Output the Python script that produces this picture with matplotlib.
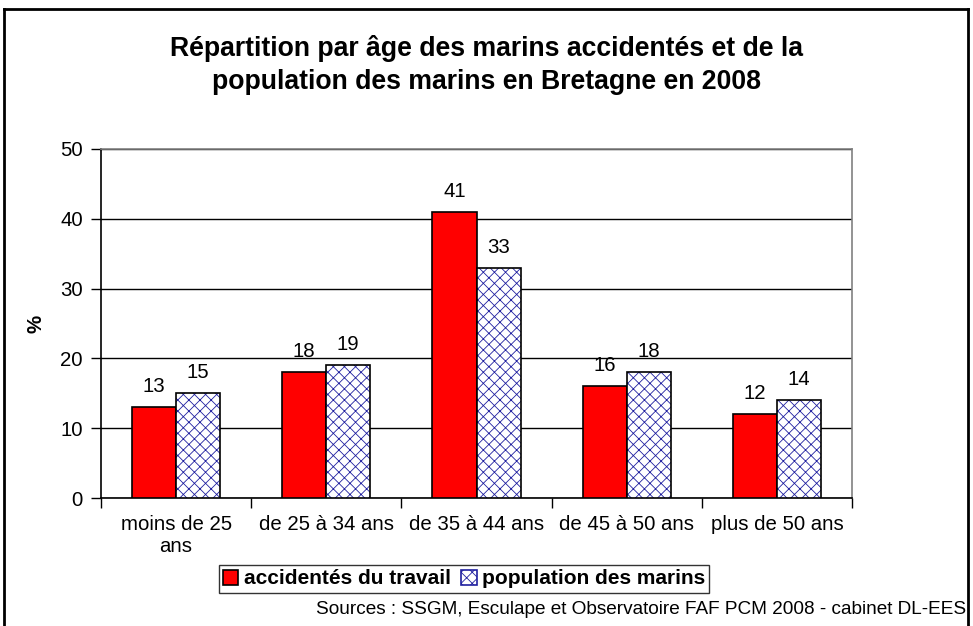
import matplotlib
matplotlib.use("Agg")
import matplotlib.pyplot as plt
import numpy as np
from matplotlib.lines import Line2D
from matplotlib.patches import Patch

plt.rcParams['font.family'] = ['Liberation Sans', 'DejaVu Sans']

categories = ["moins de 25\nans", "de 25 à 34 ans", "de 35 à 44 ans", "de 45 à 50 ans", "plus de 50 ans"]
accidentes = [13, 18, 41, 16, 12]
population = [15, 19, 33, 18, 14]
series_names = ["accidentés du travail", "population des marins"]
title = "Répartition par âge des marins accidentés et de la\npopulation des marins en Bretagne en 2008"
source = "Sources : SSGM, Esculape et Observatoire FAF PCM 2008 - cabinet DL-EES"

FS = 14.7

fig = plt.figure(figsize=(9.73, 6.26), dpi=100)
ax = fig.add_axes([101/973, 1-498/626, (852-101)/973, (498-149)/626])

x = np.arange(len(categories))
w = 0.293
plt.rcParams['hatch.linewidth'] = 0.6
ax.bar(x - w, accidentes, width=w, align='edge', color='#ff0000', edgecolor='black', linewidth=1.2, zorder=3)
ax.bar(x, population, width=w, align='edge', color='white', edgecolor='#2020a0', hatch='xxx', linewidth=0, zorder=3)
ax.bar(x, population, width=w, align='edge', fill=False, edgecolor='black', linewidth=1.2, zorder=4)

for xi, v in zip(x, accidentes):
    ax.annotate(str(v), (xi - w/2, v), xytext=(0, 8), textcoords='offset points',
                ha='center', va='bottom', fontsize=FS)
for xi, v in zip(x, population):
    ax.annotate(str(v), (xi + w/2, v), xytext=(0, 8), textcoords='offset points',
                ha='center', va='bottom', fontsize=FS)

ax.set_xlim(-0.5, len(categories) - 0.5)
ax.set_ylim(0, 50)
ax.set_yticks(range(0, 51, 10))
ax.tick_params(axis='y', labelsize=FS, direction='out', length=7, width=1, pad=6)
ax.set_xticks(x)
ax.set_xticklabels(categories, fontsize=FS)
ax.tick_params(axis='x', which='major', length=0, pad=12)
ax.set_xticks(np.arange(-0.5, len(categories)), minor=True)
ax.tick_params(axis='x', which='minor', direction='out', length=7, width=1)
ax.yaxis.grid(True, color='black', linewidth=1, zorder=0)
ax.set_axisbelow(True)
for s in ['left', 'bottom']:
    ax.spines[s].set_color('black')
    ax.spines[s].set_linewidth(1.2)
for s in ['top', 'right']:
    ax.spines[s].set_color('#808080')
    ax.spines[s].set_linewidth(1.2)
ax.set_ylabel('%', fontsize=FS, fontweight='bold')
ax.yaxis.set_label_coords(-0.074, 0.5)

fig.text(486/973, 1-65/626, title, ha='center', va='center', fontsize=19.2, fontweight='bold', linespacing=1.35)

handles = [Patch(facecolor='#ff0000', edgecolor='black', linewidth=1.2),
           Patch(facecolor='white', edgecolor='#2020a0', hatch='xxx', linewidth=1.2)]
leg = fig.legend(handles, series_names, loc='center', bbox_to_anchor=(464/973, 1-579/626), ncol=2,
                 prop={'size': 15, 'weight': 'bold'}, frameon=True, fancybox=False, edgecolor='black',
                 handlelength=0.75, handleheight=0.75, handletextpad=0.25, columnspacing=0.5,
                 borderpad=0.2, borderaxespad=0)
leg.get_frame().set_linewidth(1.0)

fig.text(966/973, 1-610/626, source, ha='right', va='center', fontsize=13.7)

# outer frame
fy = 1 - 9/626
fig.add_artist(Line2D([4/973, 968/973], [fy, fy], transform=fig.transFigure, color='black', linewidth=2))
fig.add_artist(Line2D([4/973, 4/973], [fy, 0], transform=fig.transFigure, color='black', linewidth=2))
fig.add_artist(Line2D([968/973, 968/973], [fy, 0], transform=fig.transFigure, color='black', linewidth=2))

fig.savefig('out.png', dpi=100)
